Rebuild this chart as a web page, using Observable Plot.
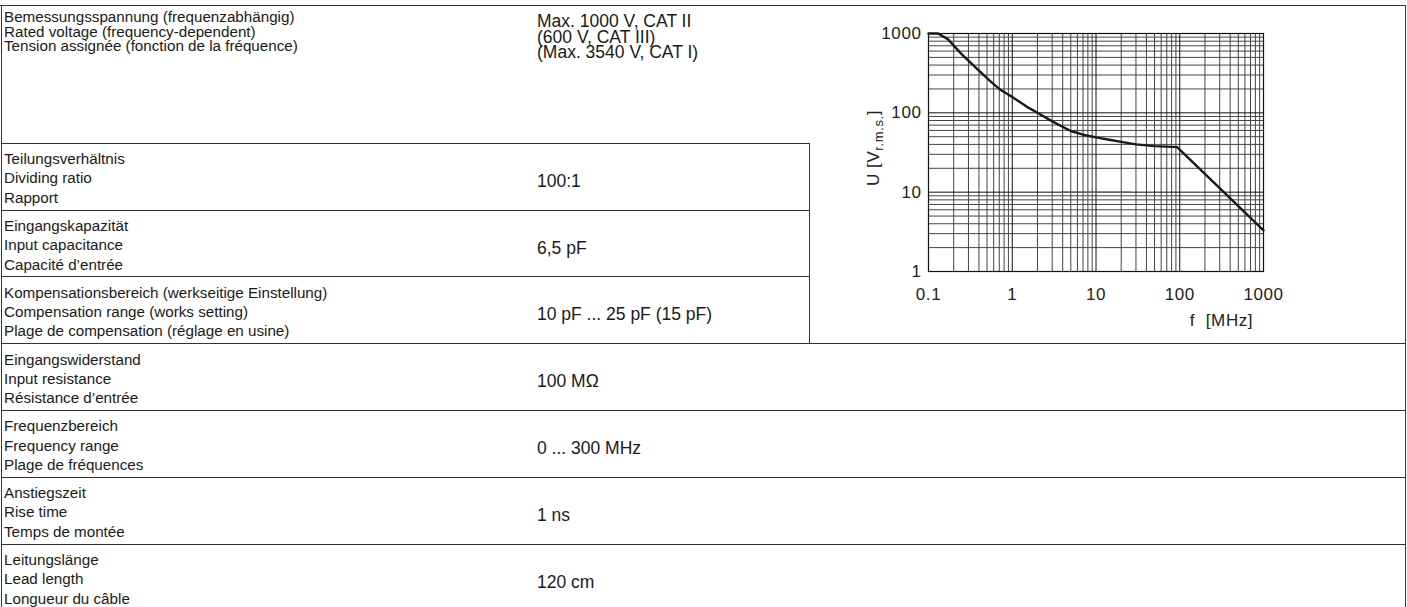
<!DOCTYPE html>
<html>
<head>
<meta charset="utf-8">
<script src="https://cdn.jsdelivr.net/npm/d3@7"></script>
<script src="https://cdn.jsdelivr.net/npm/@observablehq/plot@0.6"></script>
<style>
  html, body { margin: 0; padding: 0; background: #fff; }
  body { font-family: "Liberation Sans", Arial, sans-serif; color: #1a1a1a; }
  #page { position: relative; width: 1407px; height: 607px; overflow: hidden; }
  .t { position: absolute; white-space: pre; }
  .h { position: absolute; height: 0; border-top: 1px solid #333; }
  .v { position: absolute; width: 0; border-left: 1px solid #333; }
  #chart { position: absolute; left: 860px; top: 0px; }
  #chart text { letter-spacing: 0.6px; }
</style>
</head>
<body>
<div id="page"><div id="chart"></div></div>
<script>
// ---- table data ----
const labelsDe = ["Bemessungsspannung (frequenzabhängig)", "Teilungsverhältnis", "Eingangskapazität",
  "Kompensationsbereich (werkseitige Einstellung)", "Eingangswiderstand", "Frequenzbereich",
  "Anstiegszeit", "Leitungslänge"];
const labelsEn = ["Rated voltage (frequency-dependent)", "Dividing ratio", "Input capacitance",
  "Compensation range (works setting)", "Input resistance", "Frequency range", "Rise time", "Lead length"];
const labelsFr = ["Tension assignée (fonction de la fréquence)", "Rapport", "Capacité d’entrée",
  "Plage de compensation (réglage en usine)", "Résistance d’entrée", "Plage de fréquences",
  "Temps de montée", "Longueur du câble"];
const valueLines = [["Max. 1000 V, CAT II", "(600 V, CAT III)", "(Max. 3540 V, CAT I)"],
  ["100:1"], ["6,5 pF"], ["10 pF ... 25 pF (15 pF)"], ["100 MΩ"], ["0 ... 300 MHz"], ["1 ns"], ["120 cm"]];

// ---- chart data ----
const freqMHz = [0.1, 0.13, 0.17, 0.25, 0.4, 0.55, 0.7, 1, 1.5, 2, 3, 5, 7, 10, 15, 20, 30, 50, 93, 1000];
const voltRms = [1000, 1000, 850, 545, 340, 250, 200, 158, 119, 100, 78, 59, 53, 49, 45.5, 43, 40, 38, 37, 3.3];
const xTicks = [0.1, 1, 10, 100, 1000];
const yTicks = [1, 10, 100, 1000];
const xTickLabels = ["0.1", "1", "10", "100", "1000"];
const yTickLabels = ["1", "10", "100", "1000"];
const gridSteps = [1, 2, 3, 4, 5, 6, 7, 8, 9];
const strayY = [{y: 10, x1: 3.9, x2: 26}];

// ---- table layout ----
const page = document.getElementById("page");
function add(cls, style, text) {
  const d = document.createElement("div");
  d.className = cls;
  Object.assign(d.style, style);
  if (text != null) d.textContent = text;
  page.appendChild(d);
  return d;
}
// one text block (several lines) whose first baseline lies at `baseline`
function textBlock(lines, x, baseline, size, spacing) {
  const top = baseline - ((spacing - 1.117 * size) / 2 + 0.905 * size);
  add("t", {left: x + "px", top: top + "px", fontSize: size + "px", lineHeight: spacing + "px"}, lines.join("\n"));
}
const rowTops = [5, 142.7, 209.5, 276.3, 343.1, 409.9, 476.7, 543.5];
const W = 1405;
add("h", {left: "0px", top: "5px", width: "1406px"});
rowTops.slice(1).forEach((y, i) => {
  const full = i >= 3;
  add("h", {left: "1px", top: Math.round(y) + "px", width: (full ? W - 1 : 808) + "px"});
});
add("v", {left: "1px", top: "5px", height: "602px"});
add("v", {left: "809px", top: "143px", height: "200px"});
add("v", {left: W + "px", top: "5px", height: "602px"});

const LF = 15.2, VF = 17.5;
rowTops.forEach((top, i) => {
  const lines = [labelsDe[i], labelsEn[i], labelsFr[i]];
  if (i === 0) {
    textBlock(lines, 4, top + 17.7, LF, 14.3);
    textBlock(valueLines[i], 537, top + 23, VF, 15.5);
  } else {
    textBlock(lines, 4, top + 21.4, LF, 19.3);
    textBlock(valueLines[i], 537, top + 44.8, VF, 19.3);
  }
});

// ---- chart ----
const curve = freqMHz.map((f, i) => ({f, u: voltRms[i]}));
const xGridMinor = xTicks.slice(0, -1).flatMap(d => gridSteps.slice(1).map(m => +(d * m).toPrecision(3)));
const yGridMinor = yTicks.slice(0, -1).flatMap(d => gridSteps.slice(1).map(m => +(d * m).toPrecision(3)));

const chart = Plot.plot({
  width: 420,
  height: 335,
  marginLeft: 68,
  marginRight: 17,
  marginTop: 33,
  marginBottom: 64,
  style: {fontFamily: "Liberation Sans, Arial, sans-serif", fontSize: "17px", color: "#222", background: "transparent", overflow: "visible"},
  x: {type: "log", domain: [0.1, 1000], ticks: xTicks, tickFormat: (d) => xTickLabels[xTicks.indexOf(d)], tickSize: 0, tickPadding: 16, label: null},
  y: {type: "log", domain: [1, 1000], ticks: yTicks, tickFormat: (d) => yTickLabels[yTicks.indexOf(d)], tickSize: 0, tickPadding: 7, label: null},
  marks: [
    Plot.ruleX(xGridMinor, {stroke: "#444", strokeWidth: 1}),
    Plot.ruleY(yGridMinor, {stroke: "#444", strokeWidth: 1}),
    Plot.ruleX(xTicks, {stroke: "#111", strokeWidth: 1}),
    Plot.ruleY(yTicks, {stroke: "#111", strokeWidth: 1}),
    Plot.ruleY(strayY, {y: "y", x1: "x1", x2: "x2", stroke: "#666", strokeWidth: 1.5}),
    Plot.frame({stroke: "#111", strokeWidth: 1.2}),
    Plot.line(curve, {x: "f", y: "u", stroke: "#1a1a1a", strokeWidth: 2.4, curve: "linear"}),
    Plot.text(["f  [MHz]"], {frameAnchor: "bottom-right", dx: -42, dy: 49, textAnchor: "middle", lineAnchor: "middle", fontSize: 17, fill: "#222"})
  ]
});
document.getElementById("chart").appendChild(chart);

const yl = d3.select(chart).append("text")
  .attr("transform", "translate(19,148) rotate(-90)")
  .attr("text-anchor", "middle")
  .attr("font-size", 17)
  .attr("fill", "#222");
yl.append("tspan").text("U [V");
yl.append("tspan").attr("font-size", 13).attr("dy", 4).text("r.m.s.");
yl.append("tspan").attr("dy", -4).text("]");
</script>
</body>
</html>
